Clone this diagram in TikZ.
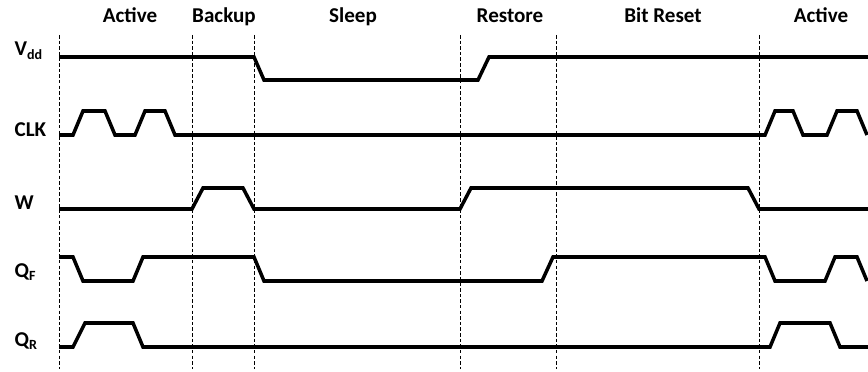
\documentclass[tikz,border=0pt]{standalone}
\usepackage{fontspec}
\setmainfont{Carlito}

\begin{document}
\begin{tikzpicture}[>=latex,line width=2pt,font=\fontsize{12}{14}\selectfont\bfseries]

\useasboundingbox (0,0) rectangle (17.36,7.42);

% phase names
\node (active1) at (2.60,6.96) [anchor=base] {Active};
\node (backup) at (4.48,6.96) [anchor=base] {Backup};
\node (sleep) at (7.06,6.96) [anchor=base] {Sleep};
\node (restore) at (10.20,6.96) [anchor=base] {Restore};
\node (bitreset) at (13.26,6.96) [anchor=base] {Bit Reset};
\node (active2) at (16.42,6.96) [anchor=base] {Active};

% signal names
\node (vdd) at (0.14,6.30) [anchor=base west] {V\textsubscript{dd}};
\node (clk) at (0.14,4.68) [anchor=base west] {CLK};
\node (w) at (0.14,3.22) [anchor=base west] {W};
\node (qf) at (0.14,1.88) [anchor=base west] {Q\textsubscript{F}};
\node (qr) at (0.14,0.50) [anchor=base west] {Q\textsubscript{R}};

% phase borders
\draw[line width=0.5pt,dash pattern=on 2pt off 1.2pt] (1.18,6.72) -- (1.18,0.04);
\draw[line width=0.5pt,dash pattern=on 2pt off 1.2pt] (3.84,6.72) -- (3.84,0.04);
\draw[line width=0.5pt,dash pattern=on 2pt off 1.2pt] (5.08,6.72) -- (5.08,0.04);
\draw[line width=0.5pt,dash pattern=on 2pt off 1.2pt] (9.20,6.72) -- (9.20,0.04);
\draw[line width=0.5pt,dash pattern=on 2pt off 1.2pt] (11.12,6.72) -- (11.12,0.04);
\draw[line width=0.5pt,dash pattern=on 2pt off 1.2pt] (15.19,6.72) -- (15.19,0.04);

% Vdd
\draw (1.18,6.28) -- (5.08,6.28) -- (5.28,5.82) -- (9.56,5.82) -- (9.78,6.28) -- (17.36,6.28);

% CLK
\draw (1.18,4.72) -- (1.46,4.72) -- (1.66,5.20) -- (2.10,5.20) -- (2.30,4.72) -- (2.70,4.72)
  -- (2.90,5.20) -- (3.30,5.20) -- (3.50,4.72) -- (15.30,4.72) -- (15.50,5.20) -- (15.86,5.20)
  -- (16.06,4.72) -- (16.54,4.72) -- (16.74,5.20) -- (17.14,5.20) -- (17.34,4.72);

% W
\draw (1.18,3.24) -- (3.84,3.24) -- (4.06,3.66) -- (4.86,3.66) -- (5.08,3.24) -- (9.20,3.24)
  -- (9.42,3.66) -- (14.96,3.66) -- (15.18,3.24) -- (17.36,3.24);

% QF
\draw (1.18,2.28) -- (1.46,2.28) -- (1.66,1.80) -- (2.66,1.80) -- (2.86,2.28) -- (5.08,2.28)
  -- (5.28,1.80) -- (10.84,1.80) -- (11.06,2.28) -- (15.30,2.28) -- (15.50,1.80) -- (16.50,1.80)
  -- (16.70,2.28) -- (17.14,2.28) -- (17.34,1.80);

% QR
\draw (1.18,0.48) -- (1.46,0.48) -- (1.70,0.96) -- (2.66,0.96) -- (2.86,0.48) -- (15.40,0.48)
  -- (15.60,0.96) -- (16.60,0.96) -- (16.80,0.48) -- (17.36,0.48);

\end{tikzpicture}
\end{document}
